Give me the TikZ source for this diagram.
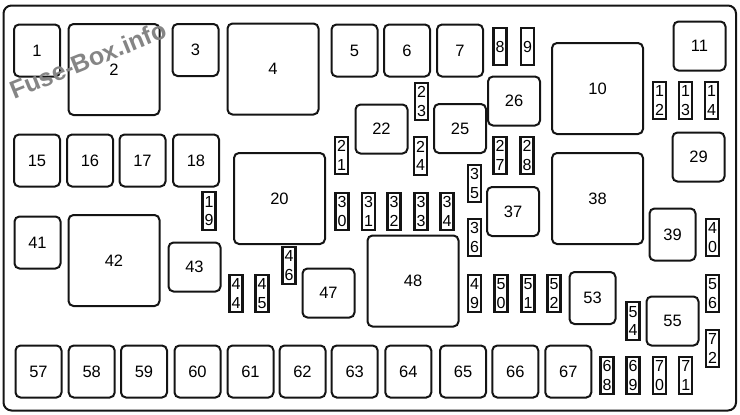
\documentclass[tikz,border=0pt]{standalone}
\usepackage{fontspec}
\setmainfont{Liberation Sans}
\usepackage{tikz}
\usetikzlibrary{positioning}
\definecolor{fuseblack}{HTML}{141414}
\definecolor{markgray}{HTML}{858585}
\tikzset{
  panel/.style={draw=fuseblack, line width=2pt, rounded corners=8pt},
  fusebox/.style={draw=fuseblack, line width=2pt, rounded corners=5pt, fill=white, minimum width=46pt, minimum height=52pt, inner sep=0pt, font=\fontsize{16.5}{18}\selectfont},
  widebox/.style={fusebox, minimum width=52pt, minimum height=49pt},
  relaybox/.style={fusebox, minimum width=91pt, minimum height=91pt},
  minifuse/.style={draw=fuseblack, line width=2.4pt, fill=white, minimum width=13pt, minimum height=37.5pt, inner sep=0pt, align=center, font=\fontsize{16}{18.3}\selectfont},
  watermark/.style={rotate=22, text=markgray, font=\fontsize{25}{25}\bfseries\selectfont}
}

\begin{document}
\begin{tikzpicture}[x=1pt, y=-1pt]
  \useasboundingbox (0,0) rectangle (740,415);
  \draw[panel] (3.5,5.5) rectangle (736,410.5);
  % top rows
  \node[fusebox] (f1) at (37,50.5) {1};
  \node[relaybox] (f2) at (114,69.5) {2};
  \node[fusebox] (f3) at (195.5,50) {3};
  \node[relaybox] (f4) at (273,69) {4};
  \node[fusebox] (f5) at (354.5,50.5) {5};
  \node[fusebox] (f6) at (407,50.5) {6};
  \node[fusebox] (f7) at (460,50.5) {7};
  \node[minifuse] (f8) at (500,46.5) {8};
  \node[minifuse] (f9) at (527.5,46.5) {9};
  \node[relaybox] (f10) at (597.5,88.5) {10};
  \node[widebox] (f11) at (699.5,46) {11};
  \node[minifuse] (f12) at (659.5,100.5) {1\\2};
  \node[minifuse] (f13) at (685.5,100.5) {1\\3};
  \node[minifuse] (f14) at (711.5,100.5) {1\\4};
  \node[fusebox] (f15) at (37,160.5) {15};
  \node[fusebox] (f16) at (90,160.5) {16};
  \node[fusebox] (f17) at (142.5,160.5) {17};
  \node[fusebox] (f18) at (196,160.5) {18};
  \node[minifuse] (f19) at (209,211) {1\\9};
  \node[relaybox] (f20) at (279.5,198.5) {20};
  \node[minifuse] (f21) at (341.5,155.5) {2\\1};
  \node[widebox] (f22) at (381.5,129) {22};
  \node[minifuse] (f23) at (421.5,101.5) {2\\3};
  \node[minifuse] (f24) at (420.5,156) {2\\4};
  \node[widebox] (f25) at (460,128.5) {25};
  \node[widebox] (f26) at (514,101) {26};
  \node[minifuse] (f27) at (500,155.5) {2\\7};
  \node[minifuse] (f28) at (527,155.5) {2\\8};
  \node[widebox] (f29) at (698.5,157) {29};
  % middle
  \node[minifuse] (f30) at (342,211.5) {3\\0};
  \node[minifuse] (f31) at (368.5,211.5) {3\\1};
  \node[minifuse] (f32) at (394,211.5) {3\\2};
  \node[minifuse] (f33) at (421,211.5) {3\\3};
  \node[minifuse] (f34) at (447,211.5) {3\\4};
  \node[minifuse] (f35) at (474.5,183.5) {3\\5};
  \node[minifuse] (f36) at (474.5,237.5) {3\\6};
  \node[widebox] (f37) at (513,211.5) {37};
  \node[relaybox] (f38) at (597.5,198.5) {38};
  \node[fusebox] (f39) at (672.5,234.5) {39};
  \node[minifuse] (f40) at (712.5,237.5) {4\\0};
  \node[fusebox] (f41) at (37.5,242.5) {41};
  \node[relaybox] (f42) at (114,260.5) {42};
  \node[widebox] (f43) at (194.5,267) {43};
  \node[minifuse] (f44) at (236,293.5) {4\\4};
  \node[minifuse] (f45) at (262,293.5) {4\\5};
  \node[minifuse] (f46) at (289,265.5) {4\\6};
  \node[widebox] (f47) at (328.5,293) {47};
  \node[relaybox] (f48) at (413,281) {48};
  \node[minifuse] (f49) at (474.5,293.5) {4\\9};
  \node[minifuse] (f50) at (501,293.5) {5\\0};
  \node[minifuse] (f51) at (528,293.5) {5\\1};
  \node[minifuse] (f52) at (554,293.5) {5\\2};
  \node[fusebox] (f53) at (592.5,298) {53};
  \node[minifuse] (f54) at (633,321) {5\\4};
  \node[widebox] (f55) at (672.5,321) {55};
  \node[minifuse] (f56) at (712.5,293.5) {5\\6};
  % bottom row
  \node[fusebox] (f57) at (38.5,371.5) {57};
  \node[fusebox] (f58) at (91.7,371.5) {58};
  \node[fusebox] (f59) at (144,371.5) {59};
  \node[fusebox] (f60) at (197.5,371.5) {60};
  \node[fusebox] (f61) at (250.5,371.5) {61};
  \node[fusebox] (f62) at (302.5,371.5) {62};
  \node[fusebox] (f63) at (354.7,371.5) {63};
  \node[fusebox] (f64) at (408.3,371.5) {64};
  \node[fusebox] (f65) at (463,371.5) {65};
  \node[fusebox] (f66) at (515.3,371.5) {66};
  \node[fusebox] (f67) at (568.3,371.5) {67};
  \node[minifuse] (f68) at (607,375.5) {6\\8};
  \node[minifuse] (f69) at (633,375.5) {6\\9};
  \node[minifuse] (f70) at (659.5,375.5) {7\\0};
  \node[minifuse] (f71) at (685.7,375.5) {7\\1};
  \node[minifuse] (f72) at (712.5,348.5) {7\\2};
  \node[watermark] (wm) at (88,60) {Fuse-Box.info};
\end{tikzpicture}
\end{document}
